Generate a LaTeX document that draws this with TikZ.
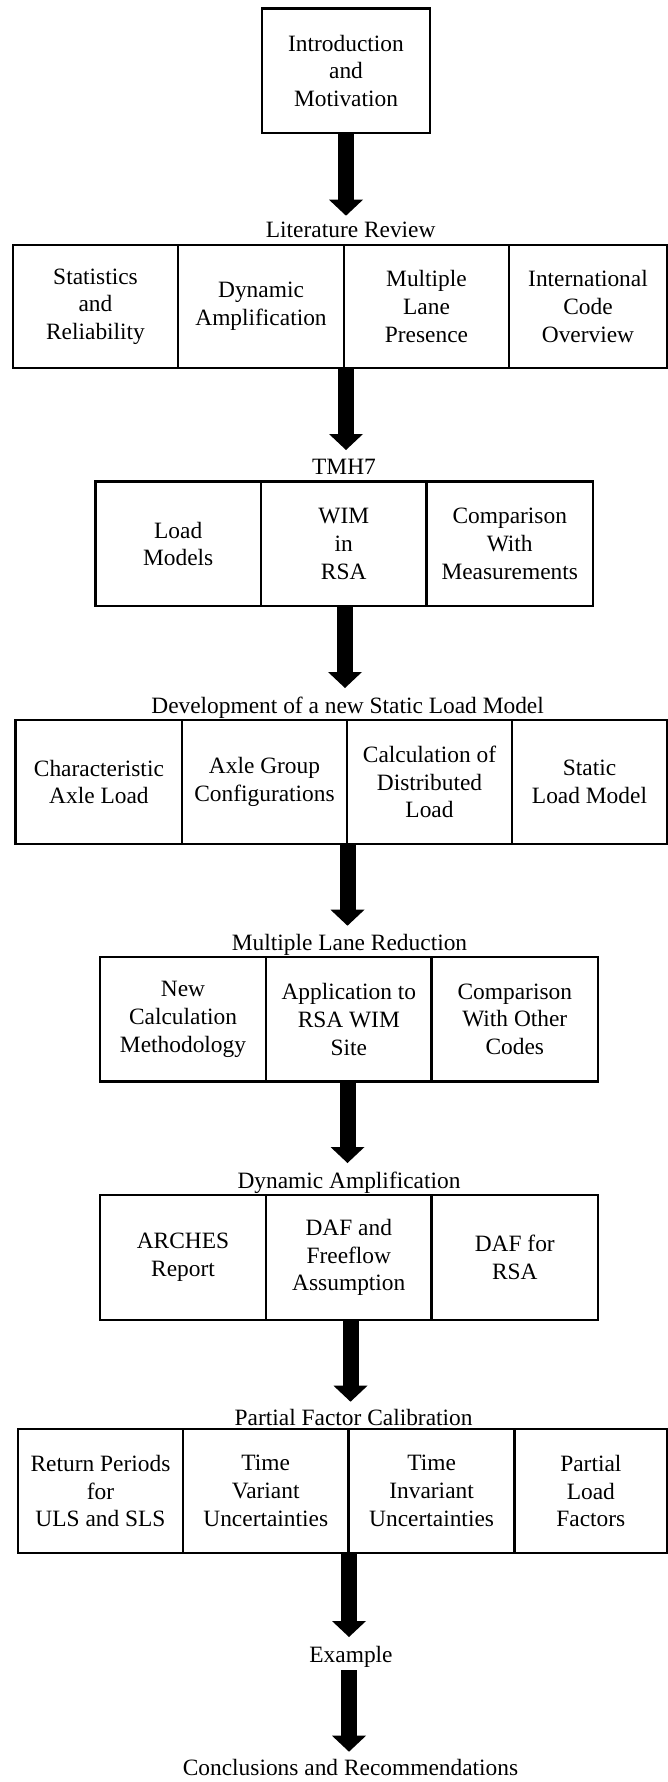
\documentclass[tikz,border=0pt]{standalone}
\usepackage{fontspec}
\setmainfont{Liberation Serif}
\usetikzlibrary{arrows.meta}
\newcommand{\fsz}{\fontsize{23.4}{27.7}\selectfont}
\tikzset{
  cell/.style={draw=black, line width=2.7pt, rectangle, inner sep=0pt, align=center, font=\fsz},
  lbl/.style={inner sep=0pt, anchor=base, font=\fsz},
  bigarrow/.style={draw=black, line width=16pt, -{Triangle[width=34pt,length=16pt,line width=0pt]}}
}
\begin{document}
\begin{tikzpicture}[x=1pt,y=-1pt]
\useasboundingbox (0,0) rectangle (668,1782);
\fill[white] (0,0) rectangle (668,1782);

% Intro
\node[cell, minimum width=168pt, minimum height=124.5pt] (intro) at (346,70.8) {Introduction\\and\\Motivation};

% Literature review
\node[lbl] (litlab) at (350.7,237.3) {Literature Review};
\node[cell, minimum width=165pt, minimum height=123pt] (lit1) at (95.5,306.5) {Statistics\\and\\Reliability};
\node[cell, minimum width=166pt, minimum height=123pt] (lit2) at (261,306.5) {Dynamic\\Amplification};
\node[cell, minimum width=165pt, minimum height=123pt] (lit3) at (426.5,306.5) {Multiple\\Lane\\Presence};
\node[cell, minimum width=158pt, minimum height=123pt] (lit4) at (588,306.5) {International\\Code\\Overview};

% TMH7
\node[lbl] (tmhlab) at (344,474) {TMH7};
\node[cell, minimum width=165.6pt, minimum height=124.3pt] (tm1) at (178.2,543.9) {Load\\Models};
\node[cell, minimum width=165.5pt, minimum height=124.3pt] (tm2) at (343.75,543.9) {WIM\\in\\RSA};
\node[cell, minimum width=166.5pt, minimum height=124.3pt] (tm3) at (509.75,543.9) {Comparison\\With\\Measurements};

% Development
\node[lbl] (devlab) at (347.6,713.5) {Development of a new Static Load Model};
\node[cell, minimum width=166.2pt, minimum height=124pt] (dev1) at (98.9,782) {Characteristic\\Axle Load};
\node[cell, minimum width=165pt, minimum height=124pt] (dev2) at (264.5,782) {Axle Group\\Configurations};
\node[cell, minimum width=165pt, minimum height=124pt] (dev3) at (429.5,782) {Calculation of\\Distributed\\Load};
\node[cell, minimum width=155pt, minimum height=124pt] (dev4) at (589.5,782) {Static\\Load Model};

% Multiple lane reduction
\node[lbl] (mlrlab) at (349.5,950.5) {Multiple Lane Reduction};
\node[cell, minimum width=166pt, minimum height=124.7pt] (ml1) at (183,1019.3) {New\\Calculation\\Methodology};
\node[cell, minimum width=165.6pt, minimum height=124.7pt] (ml2) at (348.8,1019.3) {Application to\\RSA WIM\\Site};
\node[cell, minimum width=166.4pt, minimum height=124.7pt] (ml3) at (514.8,1019.3) {Comparison\\With Other\\Codes};

% Dynamic amplification
\node[lbl] (dalab) at (349,1188.5) {Dynamic Amplification};
\node[cell, minimum width=166pt, minimum height=125pt] (da1) at (183,1257.5) {ARCHES\\Report};
\node[cell, minimum width=165.6pt, minimum height=125pt] (da2) at (348.8,1257.5) {DAF and\\Freeflow\\Assumption};
\node[cell, minimum width=166.4pt, minimum height=125pt] (da3) at (514.8,1257.5) {DAF for\\RSA};

% Partial factor calibration
\node[lbl] (pfclab) at (353.6,1425) {Partial Factor Calibration};
\node[cell, minimum width=165pt, minimum height=124pt] (pf1) at (100.5,1491) {Return Periods\\for\\ULS and SLS};
\node[cell, minimum width=165.5pt, minimum height=124pt] (pf2) at (265.75,1491) {Time\\Variant\\Uncertainties};
\node[cell, minimum width=166.2pt, minimum height=124pt] (pf3) at (431.6,1491) {Time\\Invariant\\Uncertainties};
\node[cell, minimum width=152.3pt, minimum height=124pt] (pf4) at (590.85,1491) {Partial\\Load\\Factors};

% Example / Conclusions
\node[lbl] (exlab) at (351,1662) {Example};
\node[lbl] (conlab) at (350.5,1775.5) {Conclusions and Recommendations};

% arrow tips
\coordinate (t1) at (346,215.7);
\coordinate (t2) at (346,450);
\coordinate (t3) at (345,688);
\coordinate (t4) at (347.5,925.7);
\coordinate (t5) at (347.5,1163);
\coordinate (t6) at (350.5,1401.7);
\coordinate (t7) at (349,1637);
\coordinate (t8) at (349,1751.7);

\draw[bigarrow] (t1 |- intro.south) -- (t1);
\draw[bigarrow] (t2 |- lit2.south) -- (t2);
\draw[bigarrow] (t3 |- tm2.south) -- (t3);
\draw[bigarrow] (t4 |- dev2.south) -- (t4);
\draw[bigarrow] (t5 |- ml2.south) -- (t5);
\draw[bigarrow] (t6 |- da2.south) -- (t6);
\draw[bigarrow] (t7 |- pf2.south) -- (t7);
\draw[bigarrow] ([yshift=-3pt]t8 |- exlab.south) -- (t8);
\end{tikzpicture}
\end{document}
